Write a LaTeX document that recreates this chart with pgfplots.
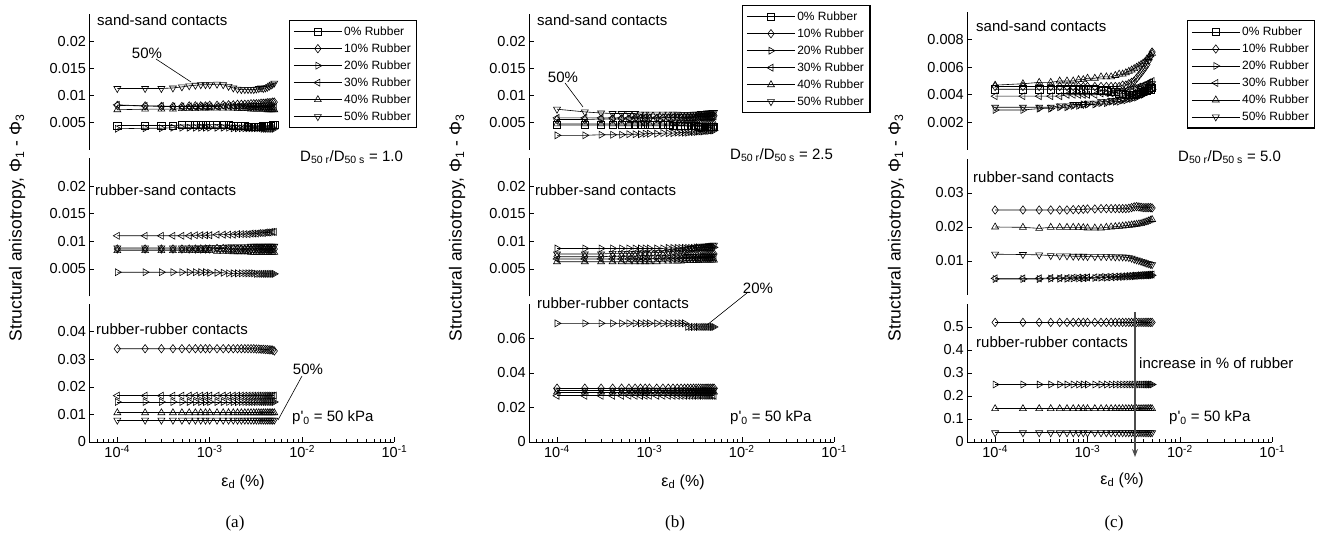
\documentclass[border=0pt]{standalone}
\usepackage{pgfplots}
\pgfplotsset{compat=1.18}
\usepackage{pgfplotstable}
\usepackage{fontspec}
\setmainfont{Liberation Sans}
\newfontfamily\serifabc{Liberation Serif}
\usetikzlibrary{arrows.meta}
\newcommand\anf{\fontsize{15}{18}\selectfont}
\newcommand\ylf{\fontsize{17.5}{20}\selectfont}
\newcommand\Tl[1]{\hbox{\fontsize{14.5}{16}\selectfont #1}}
\newcommand\Lg[1]{\hbox{\fontsize{12}{14}\selectfont #1}}

\pgfplotstableread{
x a b c d e f
1e-4 0.0045 0.0082 0.0039 0.0083 0.0074 0.0113
2e-4 0.0045 0.0081 0.0040 0.0081 0.0075 0.0113
3e-4 0.0045 0.0080 0.0040 0.0081 0.0075 0.0113
4e-4 0.0045 0.0080 0.0041 0.0080 0.0075 0.0114
5e-4 0.0046 0.0080 0.0041 0.0080 0.0076 0.0116
6e-4 0.0046 0.0081 0.0041 0.0080 0.0076 0.0118
7e-4 0.0046 0.0081 0.0041 0.0080 0.0076 0.0119
8e-4 0.0047 0.0081 0.0041 0.0080 0.0077 0.0120
9e-4 0.0047 0.0081 0.0041 0.0080 0.0077 0.0120
1e-3 0.0047 0.0082 0.0041 0.0080 0.0077 0.0120
1.2e-3 0.0047 0.0082 0.0041 0.0080 0.0077 0.0121
1.4e-3 0.0046 0.0083 0.0041 0.0081 0.0077 0.0120
1.6e-3 0.0046 0.0083 0.0041 0.0081 0.0077 0.0117
1.8e-3 0.0045 0.0083 0.0040 0.0081 0.0077 0.0114
2e-3 0.0045 0.0084 0.0040 0.0081 0.0076 0.0112
2.2e-3 0.0044 0.0084 0.0040 0.0081 0.0076 0.0111
2.4e-3 0.0044 0.0084 0.0040 0.0081 0.0076 0.0111
2.6e-3 0.0043 0.0084 0.0040 0.0080 0.0076 0.0111
2.8e-3 0.0043 0.0085 0.0040 0.0080 0.0075 0.0111
3e-3 0.0043 0.0085 0.0040 0.0080 0.0075 0.0111
3.2e-3 0.0043 0.0085 0.0040 0.0080 0.0075 0.0112
3.4e-3 0.0043 0.0085 0.0040 0.0080 0.0075 0.0113
3.6e-3 0.0043 0.0086 0.0040 0.0080 0.0075 0.0114
3.8e-3 0.0044 0.0086 0.0039 0.0079 0.0075 0.0113
4e-3 0.0044 0.0086 0.0039 0.0079 0.0075 0.0114
4.2e-3 0.0044 0.0087 0.0039 0.0079 0.0074 0.0115
4.4e-3 0.0045 0.0087 0.0039 0.0079 0.0074 0.0117
4.6e-3 0.0045 0.0087 0.0039 0.0079 0.0074 0.0119
4.8e-3 0.0046 0.0088 0.0039 0.0079 0.0074 0.0121
5e-3 0.0046 0.0088 0.0039 0.0079 0.0074 0.0123
}\tAone

\pgfplotstableread{
x b c d e f
1e-4 0.0086 0.0044 0.0110 0.0083 0.0088
2e-4 0.0086 0.0044 0.0110 0.0083 0.0088
3e-4 0.0086 0.0044 0.0110 0.0083 0.0088
4e-4 0.0086 0.0044 0.0110 0.0083 0.0088
5e-4 0.0086 0.0044 0.0110 0.0083 0.0088
6e-4 0.0086 0.0044 0.0110 0.0083 0.0088
7e-4 0.0086 0.0044 0.0111 0.0083 0.0088
8e-4 0.0086 0.0044 0.0111 0.0083 0.0088
9e-4 0.0086 0.0044 0.0111 0.0083 0.0088
1e-3 0.0086 0.0043 0.0111 0.0083 0.0089
1.2e-3 0.0087 0.0043 0.0112 0.0082 0.0089
1.4e-3 0.0087 0.0043 0.0112 0.0082 0.0089
1.6e-3 0.0086 0.0042 0.0112 0.0082 0.0090
1.8e-3 0.0086 0.0042 0.0112 0.0081 0.0090
2e-3 0.0085 0.0042 0.0113 0.0081 0.0090
2.2e-3 0.0085 0.0042 0.0113 0.0081 0.0090
2.4e-3 0.0085 0.0042 0.0113 0.0081 0.0090
2.6e-3 0.0086 0.0042 0.0113 0.0081 0.0090
2.8e-3 0.0086 0.0042 0.0114 0.0080 0.0091
3e-3 0.0086 0.0042 0.0114 0.0080 0.0091
3.2e-3 0.0087 0.0041 0.0114 0.0080 0.0091
3.4e-3 0.0086 0.0041 0.0115 0.0080 0.0091
3.6e-3 0.0087 0.0041 0.0115 0.0080 0.0091
3.8e-3 0.0086 0.0041 0.0115 0.0080 0.0091
4e-3 0.0087 0.0041 0.0116 0.0080 0.0091
4.2e-3 0.0086 0.0041 0.0116 0.0080 0.0091
4.4e-3 0.0087 0.0041 0.0116 0.0080 0.0091
4.6e-3 0.0086 0.0041 0.0117 0.0080 0.0091
4.8e-3 0.0087 0.0041 0.0117 0.0080 0.0091
5e-3 0.0086 0.0041 0.0117 0.0080 0.0091
}\tAtwo

\pgfplotstableread{
x b c d e f
1e-4 0.0338 0.0145 0.0168 0.0106 0.0079
2e-4 0.0338 0.0145 0.0168 0.0106 0.0079
3e-4 0.0338 0.0145 0.0168 0.0106 0.0079
4e-4 0.0338 0.0145 0.0168 0.0106 0.0079
5e-4 0.0338 0.0145 0.0168 0.0106 0.0079
6e-4 0.0338 0.0145 0.0168 0.0106 0.0079
7e-4 0.0338 0.0145 0.0168 0.0106 0.0079
8e-4 0.0338 0.0145 0.0168 0.0106 0.0079
9e-4 0.0338 0.0145 0.0168 0.0106 0.0079
1e-3 0.0338 0.0145 0.0168 0.0106 0.0079
1.2e-3 0.0338 0.0145 0.0168 0.0106 0.0079
1.4e-3 0.0338 0.0145 0.0168 0.0106 0.0079
1.6e-3 0.0338 0.0145 0.0168 0.0106 0.0079
1.8e-3 0.0338 0.0145 0.0168 0.0106 0.0079
2e-3 0.0338 0.0145 0.0168 0.0106 0.0079
2.2e-3 0.0338 0.0145 0.0168 0.0106 0.0079
2.4e-3 0.0338 0.0145 0.0168 0.0106 0.0079
2.6e-3 0.0338 0.0145 0.0168 0.0106 0.0079
2.8e-3 0.0338 0.0145 0.0168 0.0106 0.0079
3e-3 0.0338 0.0145 0.0168 0.0106 0.0079
3.2e-3 0.0337 0.0145 0.0168 0.0106 0.0079
3.4e-3 0.0337 0.0145 0.0168 0.0106 0.0079
3.6e-3 0.0336 0.0145 0.0168 0.0106 0.0079
3.8e-3 0.0336 0.0145 0.0168 0.0106 0.0079
4e-3 0.0335 0.0145 0.0168 0.0106 0.0079
4.2e-3 0.0335 0.0145 0.0168 0.0106 0.0079
4.4e-3 0.0334 0.0145 0.0168 0.0106 0.0079
4.6e-3 0.0334 0.0145 0.0168 0.0106 0.0079
4.8e-3 0.0333 0.0145 0.0168 0.0106 0.0079
5e-3 0.0330 0.0145 0.0168 0.0106 0.0079
}\tAthree

\pgfplotstableread{
x a b c d e f
1e-4 0.0046 0.0056 0.0027 0.0059 0.0048 0.0075
2e-4 0.0046 0.0056 0.0027 0.0059 0.0048 0.0070
3e-4 0.0046 0.0057 0.0028 0.0059 0.0048 0.0068
4e-4 0.0046 0.0057 0.0028 0.0059 0.0048 0.0067
5e-4 0.0046 0.0057 0.0028 0.0059 0.0048 0.0067
6e-4 0.0046 0.0057 0.0029 0.0059 0.0048 0.0067
7e-4 0.0046 0.0058 0.0029 0.0060 0.0048 0.0067
8e-4 0.0046 0.0058 0.0029 0.0060 0.0048 0.0066
9e-4 0.0046 0.0058 0.0030 0.0060 0.0048 0.0066
1e-3 0.0046 0.0058 0.0030 0.0060 0.0048 0.0066
1.2e-3 0.0046 0.0058 0.0030 0.0060 0.0048 0.0066
1.4e-3 0.0046 0.0059 0.0031 0.0060 0.0048 0.0066
1.6e-3 0.0046 0.0059 0.0031 0.0060 0.0048 0.0066
1.8e-3 0.0045 0.0059 0.0031 0.0060 0.0048 0.0066
2e-3 0.0045 0.0059 0.0032 0.0060 0.0048 0.0066
2.2e-3 0.0045 0.0059 0.0032 0.0060 0.0048 0.0065
2.4e-3 0.0045 0.0060 0.0032 0.0060 0.0048 0.0065
2.6e-3 0.0044 0.0060 0.0032 0.0060 0.0048 0.0065
2.8e-3 0.0044 0.0060 0.0033 0.0060 0.0048 0.0065
3e-3 0.0044 0.0060 0.0033 0.0060 0.0048 0.0066
3.2e-3 0.0044 0.0060 0.0033 0.0061 0.0048 0.0066
3.4e-3 0.0043 0.0061 0.0034 0.0061 0.0048 0.0066
3.6e-3 0.0043 0.0061 0.0034 0.0061 0.0049 0.0067
3.8e-3 0.0043 0.0061 0.0034 0.0061 0.0049 0.0067
4e-3 0.0043 0.0062 0.0035 0.0061 0.0049 0.0067
4.2e-3 0.0043 0.0062 0.0035 0.0061 0.0049 0.0068
4.4e-3 0.0043 0.0062 0.0035 0.0061 0.0049 0.0068
4.6e-3 0.0043 0.0062 0.0036 0.0061 0.0049 0.0068
4.8e-3 0.0043 0.0063 0.0036 0.0061 0.0049 0.0069
5e-3 0.0043 0.0063 0.0036 0.0062 0.0049 0.0069
}\tBone

\pgfplotstableread{
x b c d e f
1e-4 0.0072 0.0087 0.0068 0.0063 0.0077
2e-4 0.0072 0.0087 0.0068 0.0063 0.0077
3e-4 0.0072 0.0087 0.0068 0.0063 0.0077
4e-4 0.0073 0.0087 0.0068 0.0063 0.0078
5e-4 0.0073 0.0087 0.0068 0.0063 0.0078
6e-4 0.0073 0.0087 0.0068 0.0063 0.0078
7e-4 0.0073 0.0087 0.0068 0.0063 0.0078
8e-4 0.0074 0.0087 0.0068 0.0063 0.0079
9e-4 0.0074 0.0087 0.0068 0.0063 0.0079
1e-3 0.0074 0.0087 0.0068 0.0063 0.0079
1.2e-3 0.0074 0.0087 0.0069 0.0063 0.0080
1.4e-3 0.0074 0.0087 0.0069 0.0064 0.0080
1.6e-3 0.0075 0.0088 0.0069 0.0064 0.0081
1.8e-3 0.0075 0.0088 0.0069 0.0064 0.0082
2e-3 0.0075 0.0088 0.0069 0.0064 0.0083
2.2e-3 0.0075 0.0088 0.0069 0.0064 0.0084
2.4e-3 0.0076 0.0088 0.0070 0.0065 0.0085
2.6e-3 0.0076 0.0088 0.0070 0.0065 0.0086
2.8e-3 0.0076 0.0088 0.0070 0.0065 0.0087
3e-3 0.0076 0.0088 0.0070 0.0065 0.0088
3.2e-3 0.0076 0.0089 0.0070 0.0065 0.0089
3.4e-3 0.0077 0.0089 0.0070 0.0065 0.0089
3.6e-3 0.0077 0.0089 0.0071 0.0066 0.0090
3.8e-3 0.0077 0.0089 0.0071 0.0066 0.0090
4e-3 0.0077 0.0089 0.0071 0.0066 0.0091
4.2e-3 0.0077 0.0089 0.0071 0.0066 0.0091
4.4e-3 0.0077 0.0089 0.0071 0.0066 0.0092
4.6e-3 0.0077 0.0089 0.0071 0.0066 0.0092
4.8e-3 0.0077 0.0089 0.0071 0.0066 0.0093
5e-3 0.0077 0.0089 0.0071 0.0066 0.0093
}\tBtwo

\pgfplotstableread{
x b c d e f
1e-4 0.0312 0.0688 0.0268 0.0290 0.0301
2e-4 0.0312 0.0688 0.0268 0.0290 0.0301
3e-4 0.0312 0.0688 0.0268 0.0290 0.0301
4e-4 0.0312 0.0688 0.0268 0.0290 0.0301
5e-4 0.0312 0.0688 0.0268 0.0290 0.0301
6e-4 0.0312 0.0688 0.0268 0.0290 0.0301
7e-4 0.0312 0.0688 0.0268 0.0290 0.0301
8e-4 0.0312 0.0688 0.0268 0.0290 0.0301
9e-4 0.0312 0.0688 0.0268 0.0290 0.0301
1e-3 0.0312 0.0688 0.0268 0.0290 0.0301
1.2e-3 0.0312 0.0688 0.0268 0.0290 0.0301
1.4e-3 0.0312 0.0688 0.0268 0.0290 0.0301
1.6e-3 0.0312 0.0688 0.0268 0.0290 0.0301
1.8e-3 0.0312 0.0688 0.0268 0.0290 0.0301
2e-3 0.0312 0.0688 0.0268 0.0290 0.0301
2.2e-3 0.0312 0.0688 0.0268 0.0290 0.0301
2.4e-3 0.0312 0.0688 0.0268 0.0290 0.0301
2.6e-3 0.0312 0.0668 0.0268 0.0290 0.0301
2.8e-3 0.0312 0.0667 0.0268 0.0290 0.0301
3e-3 0.0312 0.0667 0.0268 0.0290 0.0301
3.2e-3 0.0312 0.0667 0.0268 0.0290 0.0301
3.4e-3 0.0312 0.0667 0.0268 0.0290 0.0301
3.6e-3 0.0312 0.0667 0.0268 0.0290 0.0301
3.8e-3 0.0312 0.0667 0.0268 0.0290 0.0301
4e-3 0.0312 0.0667 0.0268 0.0290 0.0301
4.2e-3 0.0312 0.0667 0.0268 0.0290 0.0301
4.4e-3 0.0312 0.0667 0.0268 0.0290 0.0301
4.6e-3 0.0312 0.0667 0.0268 0.0290 0.0301
4.8e-3 0.0312 0.0667 0.0268 0.0290 0.0301
5e-3 0.0312 0.0667 0.0268 0.0290 0.0301
}\tBthree

\pgfplotstableread{
x a b c d e f
1e-4 0.0044 0.0046 0.0029 0.0039 0.0047 0.0031
2e-4 0.0044 0.0046 0.0029 0.0039 0.0048 0.0031
3e-4 0.0044 0.0046 0.0030 0.0039 0.0049 0.0031
4e-4 0.0044 0.0046 0.0030 0.0039 0.0049 0.0031
5e-4 0.0044 0.0046 0.0031 0.0039 0.0050 0.0032
6e-4 0.0044 0.0046 0.0031 0.0040 0.0050 0.0032
7e-4 0.0044 0.0046 0.0032 0.0040 0.0050 0.0033
8e-4 0.0044 0.0046 0.0032 0.0040 0.0051 0.0033
9e-4 0.0044 0.0046 0.0033 0.0040 0.0051 0.0033
1e-3 0.0044 0.0046 0.0033 0.0040 0.0052 0.0034
1.2e-3 0.0044 0.0046 0.0033 0.0040 0.0052 0.0034
1.4e-3 0.0043 0.0046 0.0034 0.0041 0.0053 0.0035
1.6e-3 0.0043 0.0046 0.0034 0.0041 0.0053 0.0035
1.8e-3 0.0042 0.0046 0.0035 0.0041 0.0053 0.0036
2e-3 0.0042 0.0046 0.0035 0.0042 0.0054 0.0036
2.2e-3 0.0041 0.0046 0.0035 0.0042 0.0055 0.0037
2.4e-3 0.0041 0.0047 0.0036 0.0043 0.0055 0.0037
2.6e-3 0.0040 0.0047 0.0036 0.0043 0.0056 0.0038
2.8e-3 0.0040 0.0048 0.0037 0.0044 0.0057 0.0038
3e-3 0.0040 0.0049 0.0037 0.0044 0.0058 0.0039
3.2e-3 0.0040 0.0050 0.0038 0.0045 0.0059 0.0040
3.4e-3 0.0041 0.0052 0.0038 0.0045 0.0060 0.0040
3.6e-3 0.0041 0.0054 0.0039 0.0046 0.0061 0.0041
3.8e-3 0.0042 0.0056 0.0040 0.0046 0.0062 0.0042
4e-3 0.0042 0.0058 0.0040 0.0047 0.0063 0.0043
4.2e-3 0.0043 0.0060 0.0041 0.0047 0.0064 0.0044
4.4e-3 0.0043 0.0062 0.0042 0.0048 0.0066 0.0045
4.6e-3 0.0044 0.0065 0.0042 0.0049 0.0067 0.0046
4.8e-3 0.0044 0.0068 0.0043 0.0049 0.0069 0.0047
5e-3 0.0045 0.0071 0.0044 0.0050 0.0070 0.0048
}\tCone

\pgfplotstableread{
x b c d e f
1e-4 0.0250 0.0047 0.0049 0.0200 0.0120
2e-4 0.0250 0.0047 0.0049 0.0199 0.0119
3e-4 0.0250 0.0047 0.0049 0.0196 0.0118
4e-4 0.0250 0.0048 0.0050 0.0199 0.0116
5e-4 0.0250 0.0048 0.0050 0.0199 0.0115
6e-4 0.0250 0.0048 0.0050 0.0199 0.0115
7e-4 0.0251 0.0049 0.0051 0.0199 0.0114
8e-4 0.0251 0.0049 0.0051 0.0199 0.0114
9e-4 0.0252 0.0049 0.0051 0.0198 0.0114
1e-3 0.0253 0.0050 0.0052 0.0197 0.0113
1.2e-3 0.0253 0.0050 0.0052 0.0197 0.0113
1.4e-3 0.0254 0.0051 0.0053 0.0197 0.0113
1.6e-3 0.0254 0.0051 0.0053 0.0199 0.0113
1.8e-3 0.0254 0.0052 0.0054 0.0200 0.0113
2e-3 0.0254 0.0052 0.0054 0.0201 0.0112
2.2e-3 0.0254 0.0053 0.0055 0.0202 0.0112
2.4e-3 0.0254 0.0053 0.0055 0.0203 0.0112
2.6e-3 0.0254 0.0054 0.0056 0.0204 0.0111
2.8e-3 0.0255 0.0054 0.0056 0.0205 0.0110
3e-3 0.0257 0.0055 0.0057 0.0206 0.0108
3.2e-3 0.0259 0.0055 0.0057 0.0207 0.0105
3.4e-3 0.0260 0.0056 0.0058 0.0208 0.0103
3.6e-3 0.0259 0.0056 0.0058 0.0209 0.0101
3.8e-3 0.0258 0.0057 0.0059 0.0210 0.0099
4e-3 0.0257 0.0057 0.0059 0.0212 0.0097
4.2e-3 0.0257 0.0057 0.0059 0.0214 0.0095
4.4e-3 0.0257 0.0058 0.0060 0.0216 0.0093
4.6e-3 0.0257 0.0058 0.0060 0.0218 0.0092
4.8e-3 0.0257 0.0058 0.0060 0.0220 0.0090
5e-3 0.0256 0.0058 0.0060 0.0222 0.0089
}\tCtwo

\pgfplotstableread{
x b c e f
1e-4 0.520 0.250 0.145 0.040
2e-4 0.520 0.250 0.145 0.040
3e-4 0.520 0.250 0.145 0.040
4e-4 0.520 0.250 0.145 0.040
5e-4 0.520 0.250 0.145 0.040
6e-4 0.520 0.250 0.145 0.040
7e-4 0.520 0.250 0.145 0.040
8e-4 0.520 0.250 0.145 0.040
9e-4 0.520 0.250 0.145 0.040
1e-3 0.520 0.250 0.145 0.040
1.2e-3 0.520 0.250 0.145 0.040
1.4e-3 0.520 0.250 0.145 0.040
1.6e-3 0.520 0.250 0.145 0.040
1.8e-3 0.520 0.250 0.145 0.040
2e-3 0.520 0.250 0.145 0.040
2.2e-3 0.520 0.250 0.145 0.040
2.4e-3 0.520 0.250 0.145 0.040
2.6e-3 0.520 0.250 0.145 0.040
2.8e-3 0.520 0.250 0.145 0.040
3e-3 0.520 0.250 0.145 0.040
3.2e-3 0.520 0.250 0.145 0.040
3.4e-3 0.520 0.250 0.145 0.040
3.6e-3 0.520 0.250 0.145 0.040
3.8e-3 0.520 0.250 0.145 0.040
4e-3 0.520 0.250 0.145 0.040
4.2e-3 0.520 0.250 0.145 0.040
4.4e-3 0.520 0.250 0.145 0.040
4.6e-3 0.520 0.250 0.145 0.040
4.8e-3 0.520 0.250 0.145 0.040
5e-3 0.520 0.250 0.145 0.040
}\tCthree

\pgfplotsset{
  mySr/.style={black, line width=0.6pt, mark options={solid}},
  myS0/.style={mySr, mark=square, mark size=3.6pt},
  myS10/.style={mySr, mark=diamond, mark size=4.2pt},
  myS20/.style={mySr, mark=triangle, mark size=4pt, mark options={solid, rotate=-90}},
  myS30/.style={mySr, mark=triangle, mark size=4pt, mark options={solid, rotate=90}},
  myS40/.style={mySr, mark=triangle, mark size=4pt},
  myS50/.style={mySr, mark=triangle, mark size=4pt, mark options={solid, rotate=180}},
}

\begin{document}
\begin{tikzpicture}
\path[use as bounding box] (0pt,0pt) rectangle (1328pt,538pt);

% ===== column (a) =====
\begin{axis}[xmode=log, scale only axis, width=305pt, height=136pt, xmin=5e-5, xmax=0.1,
  at={(89.5pt,388pt)}, anchor=south west, clip=false,
  axis y line=left, axis x line=none, xtick=\empty,
  scaled y ticks=false, tick align=inside, major tick length=5pt, minor tick length=3pt,
  tick style={black, line width=0.6pt},
  axis line style={-, line width=0.7pt}, x axis line style={-}, y axis line style={-},
  ymin=0, ymax=0.025, ytick={0.005,0.01,0.015,0.02}, yticklabels={\Tl{0.005},\Tl{0.01},\Tl{0.015},\Tl{0.02}},
  legend image code/.code={\draw[mark repeat=2,mark phase=2] plot coordinates {(0pt,0pt) (24pt,0pt) (48pt,0pt)};},
  legend style={at={(0.654,0.956)}, anchor=north west, draw=black, line width=1.2pt, fill=white,
      inner sep=4pt, row sep=2.8pt, column sep=0pt, cells={anchor=west}}]
\addplot[myS0] table[x=x,y=a]{\tAone};
\addplot[myS10] table[x=x,y=b]{\tAone};
\addplot[myS20] table[x=x,y=c]{\tAone};
\addplot[myS30] table[x=x,y=d]{\tAone};
\addplot[myS40] table[x=x,y=e]{\tAone};
\addplot[myS50] table[x=x,y=f]{\tAone};
\legend{\Lg{0\% Rubber},\Lg{10\% Rubber},\Lg{20\% Rubber},\Lg{30\% Rubber},\Lg{40\% Rubber},\Lg{50\% Rubber}}
\end{axis}
\begin{axis}[xmode=log, scale only axis, width=305pt, height=138pt, xmin=5e-5, xmax=0.1,
  at={(89.5pt,241.5pt)}, anchor=south west, clip=false,
  axis y line=left, axis x line=none, xtick=\empty,
  scaled y ticks=false, tick align=inside, major tick length=5pt, minor tick length=3pt,
  tick style={black, line width=0.6pt},
  axis line style={-, line width=0.7pt}, x axis line style={-}, y axis line style={-},
  ymin=0, ymax=0.025, ytick={0.005,0.01,0.015,0.02}, yticklabels={\Tl{0.005},\Tl{0.01},\Tl{0.015},\Tl{0.02}}]
\addplot[myS10] table[x=x,y=b]{\tAtwo};
\addplot[myS20] table[x=x,y=c]{\tAtwo};
\addplot[myS30] table[x=x,y=d]{\tAtwo};
\addplot[myS40] table[x=x,y=e]{\tAtwo};
\addplot[myS50] table[x=x,y=f]{\tAtwo};
\end{axis}
\begin{axis}[xmode=log, scale only axis, width=305pt, height=138pt, xmin=5e-5, xmax=0.1,
  at={(89.5pt,96pt)}, anchor=south west, clip=false,
  axis y line=left, axis x line=bottom,
  scaled y ticks=false, tick align=inside, major tick length=5pt, minor tick length=3pt,
  tick style={black, line width=0.6pt},
  axis line style={-, line width=0.7pt}, x axis line style={-}, y axis line style={-},
  xtick={1e-4,1e-3,1e-2,1e-1},
  xticklabels={\Tl{10\textsuperscript{-4}},\Tl{10\textsuperscript{-3}},\Tl{10\textsuperscript{-2}},\Tl{10\textsuperscript{-1}}},
  minor xtick={6e-5,7e-5,8e-5,9e-5,2e-4,3e-4,4e-4,5e-4,6e-4,7e-4,8e-4,9e-4,2e-3,3e-3,4e-3,5e-3,6e-3,7e-3,8e-3,9e-3,2e-2,3e-2,4e-2,5e-2,6e-2,7e-2,8e-2,9e-2},
  ymin=0, ymax=0.05, ytick={0,0.01,0.02,0.03,0.04}, yticklabels={\Tl{0},\Tl{0.01},\Tl{0.02},\Tl{0.03},\Tl{0.04}}]
\addplot[myS10] table[x=x,y=b]{\tAthree};
\addplot[myS20] table[x=x,y=c]{\tAthree};
\addplot[myS30] table[x=x,y=d]{\tAthree};
\addplot[myS40] table[x=x,y=e]{\tAthree};
\addplot[myS50] table[x=x,y=f]{\tAthree};
\end{axis}

% ===== column (b) =====
\begin{axis}[xmode=log, scale only axis, width=305pt, height=136pt, xmin=5e-5, xmax=0.1,
  at={(529.2pt,388pt)}, anchor=south west, clip=false,
  axis y line=left, axis x line=none, xtick=\empty,
  scaled y ticks=false, tick align=inside, major tick length=5pt, minor tick length=3pt,
  tick style={black, line width=0.6pt},
  axis line style={-, line width=0.7pt}, x axis line style={-}, y axis line style={-},
  ymin=0, ymax=0.025, ytick={0.005,0.01,0.015,0.02}, yticklabels={\Tl{0.005},\Tl{0.01},\Tl{0.015},\Tl{0.02}},
  legend image code/.code={\draw[mark repeat=2,mark phase=2] plot coordinates {(0pt,0pt) (24pt,0pt) (48pt,0pt)};},
  legend style={at={(0.698,1.066)}, anchor=north west, draw=black, line width=1.2pt, fill=white,
      inner sep=4pt, row sep=2.8pt, column sep=0pt, cells={anchor=west}}]
\addplot[myS0] table[x=x,y=a]{\tBone};
\addplot[myS10] table[x=x,y=b]{\tBone};
\addplot[myS20] table[x=x,y=c]{\tBone};
\addplot[myS30] table[x=x,y=d]{\tBone};
\addplot[myS40] table[x=x,y=e]{\tBone};
\addplot[myS50] table[x=x,y=f]{\tBone};
\legend{\Lg{0\% Rubber},\Lg{10\% Rubber},\Lg{20\% Rubber},\Lg{30\% Rubber},\Lg{40\% Rubber},\Lg{50\% Rubber}}
\end{axis}
\begin{axis}[xmode=log, scale only axis, width=305pt, height=138pt, xmin=5e-5, xmax=0.1,
  at={(529.2pt,241.5pt)}, anchor=south west, clip=false,
  axis y line=left, axis x line=none, xtick=\empty,
  scaled y ticks=false, tick align=inside, major tick length=5pt, minor tick length=3pt,
  tick style={black, line width=0.6pt},
  axis line style={-, line width=0.7pt}, x axis line style={-}, y axis line style={-},
  ymin=0, ymax=0.025, ytick={0.005,0.01,0.015,0.02}, yticklabels={\Tl{0.005},\Tl{0.01},\Tl{0.015},\Tl{0.02}}]
\addplot[myS10] table[x=x,y=b]{\tBtwo};
\addplot[myS20] table[x=x,y=c]{\tBtwo};
\addplot[myS30] table[x=x,y=d]{\tBtwo};
\addplot[myS40] table[x=x,y=e]{\tBtwo};
\addplot[myS50] table[x=x,y=f]{\tBtwo};
\end{axis}
\begin{axis}[xmode=log, scale only axis, width=305pt, height=138pt, xmin=5e-5, xmax=0.1,
  at={(529.2pt,96pt)}, anchor=south west, clip=false,
  axis y line=left, axis x line=bottom,
  scaled y ticks=false, tick align=inside, major tick length=5pt, minor tick length=3pt,
  tick style={black, line width=0.6pt},
  axis line style={-, line width=0.7pt}, x axis line style={-}, y axis line style={-},
  xtick={1e-4,1e-3,1e-2,1e-1},
  xticklabels={\Tl{10\textsuperscript{-4}},\Tl{10\textsuperscript{-3}},\Tl{10\textsuperscript{-2}},\Tl{10\textsuperscript{-1}}},
  minor xtick={6e-5,7e-5,8e-5,9e-5,2e-4,3e-4,4e-4,5e-4,6e-4,7e-4,8e-4,9e-4,2e-3,3e-3,4e-3,5e-3,6e-3,7e-3,8e-3,9e-3,2e-2,3e-2,4e-2,5e-2,6e-2,7e-2,8e-2,9e-2},
  ymin=0, ymax=0.08, ytick={0,0.02,0.04,0.06}, yticklabels={\Tl{0},\Tl{0.02},\Tl{0.04},\Tl{0.06}}]
\addplot[myS10] table[x=x,y=b]{\tBthree};
\addplot[myS20] table[x=x,y=c]{\tBthree};
\addplot[myS30] table[x=x,y=d]{\tBthree};
\addplot[myS40] table[x=x,y=e]{\tBthree};
\addplot[myS50] table[x=x,y=f]{\tBthree};
\end{axis}

% ===== column (c) =====
\begin{axis}[xmode=log, scale only axis, width=305pt, height=138pt, xmin=5e-5, xmax=0.1,
  at={(967.3pt,388pt)}, anchor=south west, clip=false,
  axis y line=left, axis x line=none, xtick=\empty,
  scaled y ticks=false, tick align=inside, major tick length=5pt, minor tick length=3pt,
  tick style={black, line width=0.6pt},
  axis line style={-, line width=0.7pt}, x axis line style={-}, y axis line style={-},
  ymin=0, ymax=0.01, ytick={0.002,0.004,0.006,0.008}, yticklabels={\Tl{0.002},\Tl{0.004},\Tl{0.006},\Tl{0.008}},
  legend image code/.code={\draw[mark repeat=2,mark phase=2] plot coordinates {(0pt,0pt) (24pt,0pt) (48pt,0pt)};},
  legend style={at={(0.720,0.94)}, anchor=north west, draw=black, line width=1.2pt, fill=white,
      inner sep=4pt, row sep=2.8pt, column sep=0pt, cells={anchor=west}}]
\addplot[myS0] table[x=x,y=a]{\tCone};
\addplot[myS10] table[x=x,y=b]{\tCone};
\addplot[myS20] table[x=x,y=c]{\tCone};
\addplot[myS30] table[x=x,y=d]{\tCone};
\addplot[myS40] table[x=x,y=e]{\tCone};
\addplot[myS50] table[x=x,y=f]{\tCone};
\legend{\Lg{0\% Rubber},\Lg{10\% Rubber},\Lg{20\% Rubber},\Lg{30\% Rubber},\Lg{40\% Rubber},\Lg{50\% Rubber}}
\end{axis}
\begin{axis}[xmode=log, scale only axis, width=305pt, height=136pt, xmin=5e-5, xmax=0.1,
  at={(967.3pt,243pt)}, anchor=south west, clip=false,
  axis y line=left, axis x line=none, xtick=\empty,
  scaled y ticks=false, tick align=inside, major tick length=5pt, minor tick length=3pt,
  tick style={black, line width=0.6pt},
  axis line style={-, line width=0.7pt}, x axis line style={-}, y axis line style={-},
  ymin=0, ymax=0.04, ytick={0.01,0.02,0.03}, yticklabels={\Tl{0.01},\Tl{0.02},\Tl{0.03}}]
\addplot[myS10] table[x=x,y=b]{\tCtwo};
\addplot[myS20] table[x=x,y=c]{\tCtwo};
\addplot[myS30] table[x=x,y=d]{\tCtwo};
\addplot[myS40] table[x=x,y=e]{\tCtwo};
\addplot[myS50] table[x=x,y=f]{\tCtwo};
\end{axis}
\begin{axis}[xmode=log, scale only axis, width=305pt, height=138pt, xmin=5e-5, xmax=0.1,
  at={(967.3pt,96pt)}, anchor=south west, clip=false,
  axis y line=left, axis x line=bottom,
  scaled y ticks=false, tick align=inside, major tick length=5pt, minor tick length=3pt,
  tick style={black, line width=0.6pt},
  axis line style={-, line width=0.7pt}, x axis line style={-}, y axis line style={-},
  xtick={1e-4,1e-3,1e-2,1e-1},
  xticklabels={\Tl{10\textsuperscript{-4}},\Tl{10\textsuperscript{-3}},\Tl{10\textsuperscript{-2}},\Tl{10\textsuperscript{-1}}},
  minor xtick={6e-5,7e-5,8e-5,9e-5,2e-4,3e-4,4e-4,5e-4,6e-4,7e-4,8e-4,9e-4,2e-3,3e-3,4e-3,5e-3,6e-3,7e-3,8e-3,9e-3,2e-2,3e-2,4e-2,5e-2,6e-2,7e-2,8e-2,9e-2},
  ymin=0, ymax=0.6, ytick={0,0.1,0.2,0.3,0.4,0.5}, yticklabels={\Tl{0},\Tl{0.1},\Tl{0.2},\Tl{0.3},\Tl{0.4},\Tl{0.5}}]
\addplot[myS10] table[x=x,y=b]{\tCthree};
\addplot[myS20] table[x=x,y=c]{\tCthree};
\addplot[myS40] table[x=x,y=e]{\tCthree};
\addplot[myS50] table[x=x,y=f]{\tCthree};
\end{axis}

% ===== texts =====
\begin{scope}[every node/.style={font=\anf, inner sep=0pt}]
% (a)
\node[anchor=west] at (97pt,518pt) {sand-sand contacts};
\node[anchor=west] at (95pt,348pt) {rubber-sand contacts};
\node[anchor=west] at (96pt,209pt) {rubber-rubber contacts};
\node[anchor=west] at (300pt,381pt) {D\textsubscript{50 r}/D\textsubscript{50 s} = 1.0};
\node[anchor=west] at (292pt,120pt) {p\textquotesingle\textsubscript{0} = 50 kPa};
\node at (147pt,485pt) {50\%};
\draw[line width=0.6pt] (156pt,479pt) -- (191pt,456pt);
\node at (308pt,169pt) {50\%};
\draw[line width=0.6pt] (302pt,162pt) -- (278pt,118pt);
\node[font=\fontsize{16}{18}\selectfont] at (243pt,56pt) {ε\textsubscript{d} (\%)};
\node[font=\fontsize{17}{20}\serifabc] at (235pt,15pt) {(a)};
\node[rotate=90, font=\ylf] at (17pt,310pt) {Structural anisotropy, Φ\textsubscript{1} - Φ\textsubscript{3}};
% (b)
\node[anchor=west] at (537pt,518pt) {sand-sand contacts};
\node[anchor=west] at (535pt,348pt) {rubber-sand contacts};
\node[anchor=west] at (537pt,235pt) {rubber-rubber contacts};
\node[anchor=west] at (730pt,383pt) {D\textsubscript{50 r}/D\textsubscript{50 s} = 2.5};
\node[anchor=west] at (730pt,120pt) {p\textquotesingle\textsubscript{0} = 50 kPa};
\node at (563pt,461pt) {50\%};
\draw[line width=0.6pt] (565pt,455pt) -- (583pt,431pt);
\node at (758pt,250pt) {20\%};
\draw[line width=0.6pt] (747pt,245pt) -- (707pt,213pt);
\node[font=\fontsize{16}{18}\selectfont] at (683pt,56pt) {ε\textsubscript{d} (\%)};
\node[font=\fontsize{17}{20}\serifabc] at (675pt,15pt) {(b)};
\node[rotate=90, font=\ylf] at (457pt,310pt) {Structural anisotropy, Φ\textsubscript{1} - Φ\textsubscript{3}};
% (c)
\node[anchor=west] at (976pt,512pt) {sand-sand contacts};
\node[anchor=west] at (973pt,361pt) {rubber-sand contacts};
\node[anchor=west] at (976pt,196pt) {rubber-rubber contacts};
\node[anchor=west] at (1178pt,381pt) {D\textsubscript{50 r}/D\textsubscript{50 s} = 5.0};
\node[anchor=west] at (1169pt,120pt) {p\textquotesingle\textsubscript{0} = 50 kPa};
\node[anchor=west] at (1139pt,175pt) {increase in \% of rubber};
\draw[line width=1.2pt, black!70, -{Stealth[length=8pt,width=6pt]}] (1135pt,226pt) -- (1135pt,81pt);
\node[font=\fontsize{16}{18}\selectfont] at (1122pt,58pt) {ε\textsubscript{d} (\%)};
\node[font=\fontsize{17}{20}\serifabc] at (1114pt,15pt) {(c)};
\node[rotate=90, font=\ylf] at (896pt,310pt) {Structural anisotropy, Φ\textsubscript{1} - Φ\textsubscript{3}};
\end{scope}
\end{tikzpicture}
\end{document}
